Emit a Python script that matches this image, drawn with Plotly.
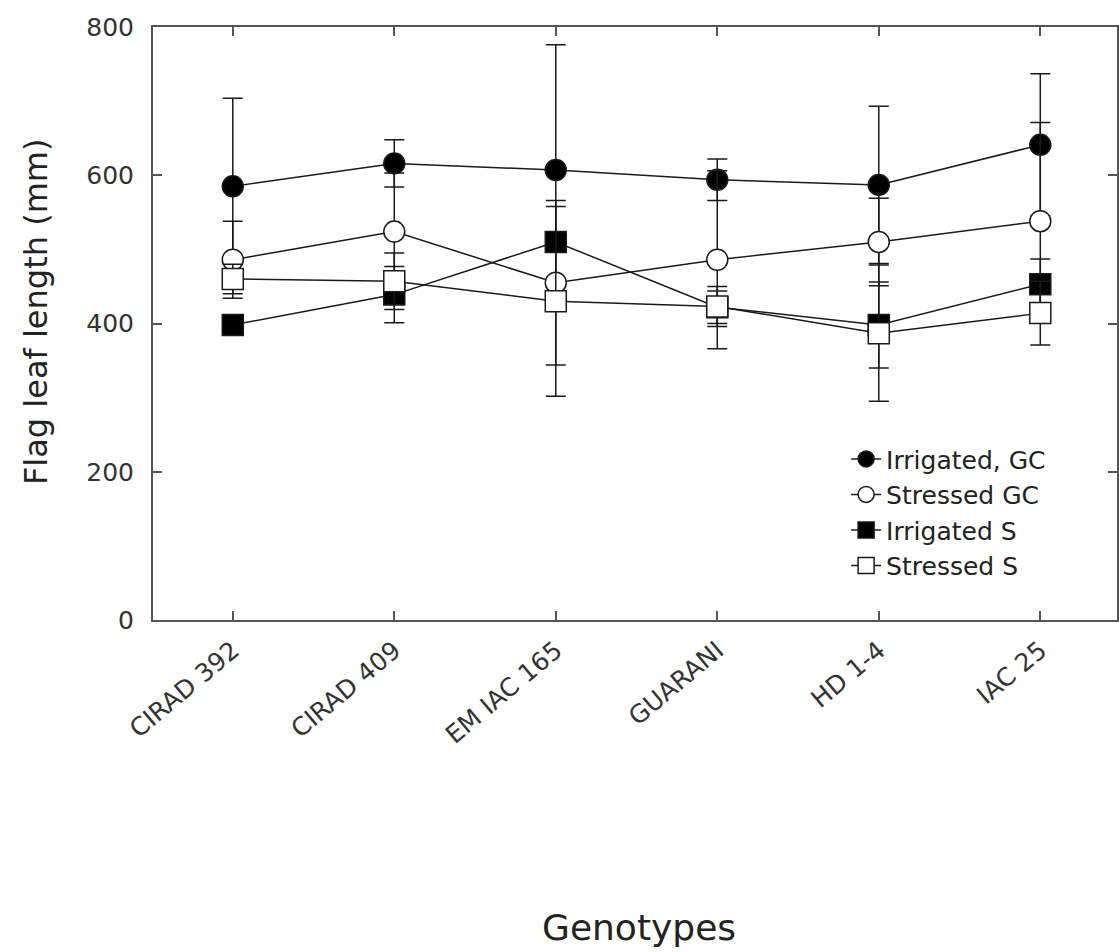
import plotly.graph_objects as go

genotypes = ["CIRAD 392", "CIRAD 409", "EM IAC 165", "GUARANI", "HD 1-4", "IAC 25"]

irrigated_gc = [585, 616, 607, 594, 587, 641]
irrigated_gc_err = [119, 32, 169, 28, 106, 96]

stressed_gc = [486, 524, 455, 486, 510, 538]
stressed_gc_err = [52, 79, 111, 120, 59, 133]

irrigated_s = [398, 439, 510, 422, 398, 453]
irrigated_s_err = [13, 38, 8, 22, 58, 34]

stressed_s = [460, 457, 430, 423, 387, 414]
stressed_s_err = [20, 38, 128, 27, 92, 43]

series = [
    ("Irrigated, GC", irrigated_gc, irrigated_gc_err, "circle", "black"),
    ("Stressed GC", stressed_gc, stressed_gc_err, "circle", "white"),
    ("Irrigated S", irrigated_s, irrigated_s_err, "square", "black"),
    ("Stressed S", stressed_s, stressed_s_err, "square", "white"),
]

FONT = "DejaVu Sans, Liberation Sans, Arial, sans-serif"

fig = go.Figure()
for name, vals, errs, sym, fill in series:
    fig.add_trace(go.Scatter(
        x=list(range(len(genotypes))), y=vals, name=name,
        mode="lines+markers",
        line=dict(color="#1a1a1a", width=1.5),
        marker=dict(symbol=sym, size=21, color=fill,
                    line=dict(color="#1a1a1a", width=1.5)),
        error_y=dict(type="data", array=errs, visible=True,
                     color="#1a1a1a", thickness=1.5, width=10),
    ))

axis_color = "#555555"
fig.update_layout(
    width=1119, height=952,
    margin=dict(l=153, r=0, t=27, b=332),
    paper_bgcolor="white", plot_bgcolor="white",
    font=dict(family=FONT, color="#333333"),
    showlegend=True,
    legend=dict(x=0.719, y=0.31, xanchor="left", yanchor="top",
                font=dict(size=25, color="#222222", family=FONT),
                bgcolor="rgba(0,0,0,0)", tracegroupgap=0),
    xaxis=dict(
        range=[-0.494, 5.475],
        tickmode="array", tickvals=list(range(len(genotypes))), ticktext=genotypes,
        tickangle=-40, tickfont=dict(size=25, color="#333333", family=FONT),
        showline=True, linecolor=axis_color, linewidth=2, mirror="ticks",
        ticks="inside", ticklen=9, tickwidth=2, tickcolor=axis_color,
        showgrid=False, zeroline=False, ticklabelstandoff=4,
    ),
    yaxis=dict(
        range=[0, 800], tickvals=[0, 200, 400, 600, 800],
        tickfont=dict(size=25, color="#333333", family=FONT),
        showline=True, linecolor=axis_color, linewidth=2, mirror="ticks",
        ticks="inside", ticklen=9, tickwidth=2, tickcolor=axis_color,
        showgrid=False, zeroline=False, ticklabelstandoff=12,
    ),
    annotations=[
        dict(text="Flag leaf length (mm)", xref="paper", yref="paper",
             x=-0.122, y=0.52, xanchor="center", yanchor="middle",
             textangle=-90, showarrow=False,
             font=dict(size=32, color="#222222", family=FONT)),
        dict(text="Genotypes", xref="paper", yref="paper",
             x=0.504, y=-0.518, xanchor="center", yanchor="middle",
             showarrow=False,
             font=dict(size=36, color="#222222", family=FONT)),
    ],
)

fig.write_html("out.html")
